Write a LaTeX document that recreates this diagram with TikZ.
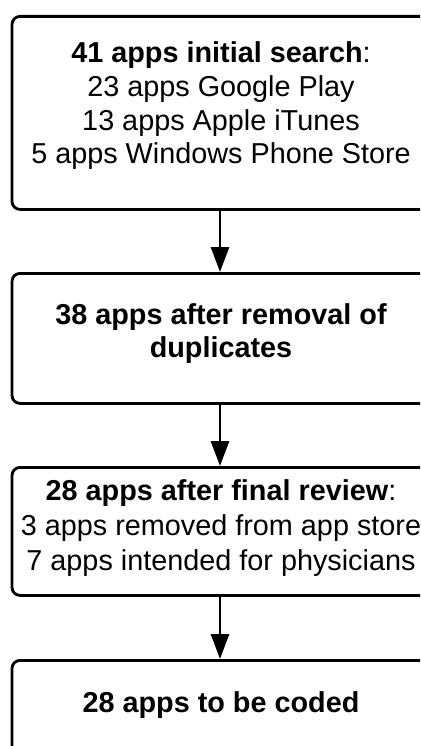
\documentclass[tikz,border=0pt]{standalone}
\usepackage{fontspec}
\setmainfont{Liberation Sans}
\usetikzlibrary{arrows.meta}
\tikzset{
  box/.style={draw, line width=2.8pt, rounded corners=8pt, minimum width=416pt, inner sep=0pt, fill=white},
  label/.style={align=center, anchor=base, inner sep=0pt, font=\fontsize{28.8}{34}\selectfont},
  flow/.style={line width=2.8pt, -{Triangle[length=25pt, width=18pt]}}
}
\begin{document}
\begin{tikzpicture}[x=1pt, y=-1pt]
\useasboundingbox (0,0) rectangle (420,746);
\clip (0,0) rectangle (420,746);
\fill[white] (0,0) rectangle (420,746);
\node[box, minimum height=193pt, anchor=north] (b1) at (220,15) {};
\node[box, minimum height=130pt, anchor=north] (b2) at (220,272) {};
\node[box, minimum height=128pt, anchor=north] (b3) at (220,466) {};
\node[box, minimum height=130pt, anchor=north] (b4) at (220,659) {};
\node[label, font=\fontsize{28.8}{33.7}\selectfont] (t1) at (221,164) {\textbf{41 apps initial search}:\\23 apps Google Play\\13 apps Apple iTunes\\5 apps Windows Phone Store};
\node[label, font=\fontsize{28.8}{33}\selectfont] (t2) at (221,357) {\textbf{38 apps after removal of}\\\textbf{duplicates}};
\node[label, font=\fontsize{28.8}{35}\selectfont] (t3) at (221,570) {\textbf{28 apps after final review}:\\3 apps removed from app store\\7 apps intended for physicians};
\node[label] (t4) at (221,712) {\textbf{28 apps to be coded}};
\draw[flow] (b1.south) -- (b2.north);
\draw[flow] (b2.south) -- (b3.north);
\draw[flow] (b3.south) -- (b4.north);
\end{tikzpicture}
\end{document}
